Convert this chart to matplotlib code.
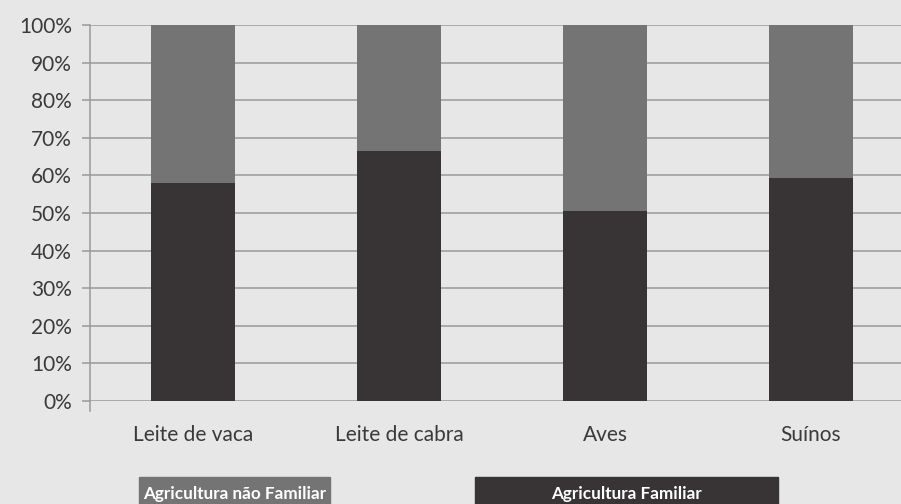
import matplotlib.pyplot as plt
from matplotlib.patches import Rectangle
from matplotlib.ticker import PercentFormatter

# Data (share of production, %)
categories = ["Leite de vaca", "Leite de cabra", "Aves", "Suínos"]
familiar = [58, 66.5, 50.5, 59.3]
nao_familiar = [100 - v for v in familiar]
series_names = ["Agricultura não Familiar", "Agricultura Familiar"]

bg = "#e6e7e6"
dark = "#383436"
gray = "#747474"
grid_col = "#9a9a9a"
text_col = "#3a3a3a"

plt.rcParams["font.family"] = ["Lato", "DejaVu Sans"]

fig = plt.figure(figsize=(9.01, 5.04), dpi=100, facecolor=bg)
ax = fig.add_axes([90 / 901, 103 / 504, 824 / 901, 376 / 504], facecolor=bg)

x = range(len(categories))
ax.bar(x, familiar, width=0.408, color=dark, zorder=3)
ax.bar(x, nao_familiar, width=0.408, bottom=familiar, color=gray, zorder=3)

ax.set_xlim(-0.5, len(categories) - 0.5)
ax.set_ylim(0, 100)
ax.set_yticks(range(0, 101, 10))
ax.yaxis.set_major_formatter(PercentFormatter(decimals=0))
ax.yaxis.grid(True, color=grid_col, linewidth=1.1, zorder=1)
ax.set_axisbelow(True)

ax.set_xticks(list(x))
ax.set_xticklabels(categories)
ax.tick_params(axis="x", length=0, pad=17, labelsize=15, labelcolor=text_col)
ax.tick_params(axis="y", length=6, width=1.1, color=grid_col, pad=7,
               labelsize=15, labelcolor=text_col)

for side in ["top", "right", "bottom"]:
    ax.spines[side].set_visible(False)
ax.spines["left"].set_color(grid_col)
ax.spines["left"].set_linewidth(1.1)
# axis line continues a little below 0%
ax.plot([0, 0], [0, -0.027], transform=ax.transAxes, color=grid_col,
        linewidth=1.1, clip_on=False)

# legend boxes under the chart (cut off by the bottom edge)
legend_boxes = [(139, 330, gray), (475, 778, dark)]
for name, (x0, x1, col) in zip(series_names, legend_boxes):
    fig.patches.append(Rectangle((x0 / 901, 0), (x1 - x0) / 901, 27 / 504,
                                 transform=fig.transFigure, color=col))
    fig.text((x0 + x1) / 2 / 901, 10 / 504, name, ha="center", va="center",
             color="white", fontsize=12.3, fontweight="bold")

fig.savefig("out.png", dpi=100, facecolor=bg)
